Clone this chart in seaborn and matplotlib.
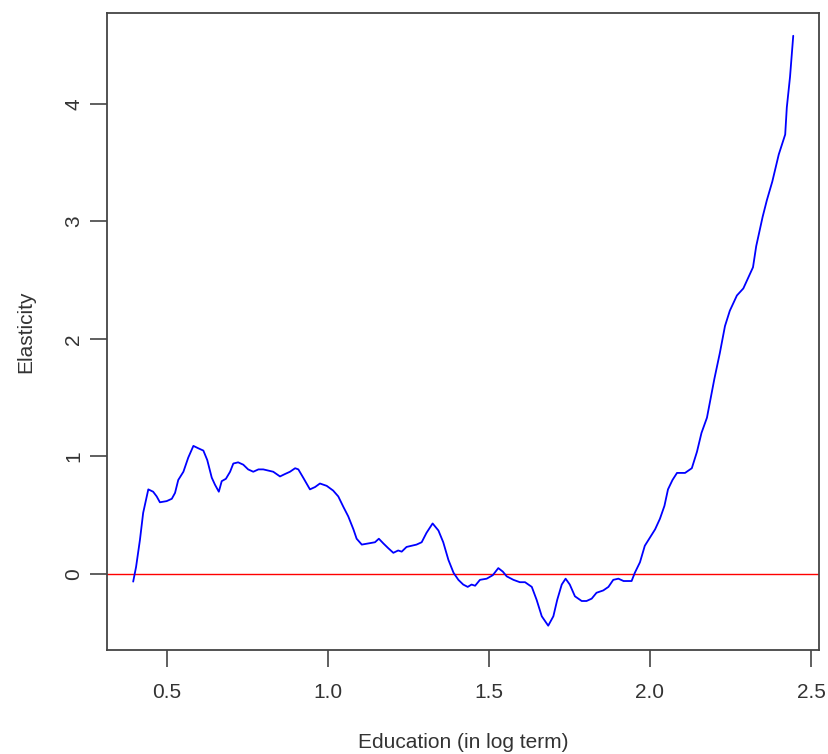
import numpy as np
import pandas as pd
import matplotlib
matplotlib.use("Agg")
import matplotlib.pyplot as plt
import seaborn as sns

education = [0.395, 0.404, 0.416, 0.426, 0.437, 0.442, 0.457, 0.468, 0.478, 0.499,
             0.515, 0.525, 0.535, 0.551, 0.566, 0.582, 0.597, 0.613, 0.625, 0.639,
             0.649, 0.661, 0.670, 0.683, 0.696, 0.706, 0.721, 0.737, 0.752, 0.768,
             0.784, 0.799, 0.815, 0.830, 0.851, 0.866, 0.882, 0.898, 0.908, 0.923,
             0.944, 0.960, 0.975, 0.996, 1.016, 1.032, 1.048, 1.063, 1.079, 1.089,
             1.105, 1.125, 1.146, 1.158, 1.172, 1.187, 1.203, 1.218, 1.229, 1.244,
             1.260, 1.275, 1.291, 1.306, 1.325, 1.343, 1.358, 1.374, 1.390, 1.405,
             1.420, 1.434, 1.446, 1.457, 1.472, 1.493, 1.512, 1.529, 1.543, 1.555,
             1.576, 1.596, 1.612, 1.633, 1.648, 1.664, 1.684, 1.700, 1.712, 1.726,
             1.738, 1.751, 1.767, 1.788, 1.803, 1.819, 1.834, 1.855, 1.871, 1.886,
             1.902, 1.918, 1.943, 1.953, 1.969, 1.984, 2.000, 2.016, 2.031, 2.045,
             2.056, 2.070, 2.084, 2.109, 2.130, 2.146, 2.160, 2.177, 2.186, 2.200,
             2.217, 2.233, 2.248, 2.270, 2.290, 2.320, 2.330, 2.350, 2.363, 2.380,
             2.400, 2.420, 2.425, 2.435, 2.445]
elasticity = [-0.065, 0.06, 0.29, 0.52, 0.66, 0.72, 0.70, 0.66, 0.61, 0.62,
              0.64, 0.69, 0.80, 0.87, 0.99, 1.09, 1.07, 1.05, 0.97, 0.82,
              0.76, 0.70, 0.79, 0.81, 0.87, 0.94, 0.95, 0.93, 0.89, 0.87,
              0.89, 0.89, 0.88, 0.87, 0.83, 0.85, 0.87, 0.90, 0.89, 0.82,
              0.72, 0.74, 0.77, 0.75, 0.71, 0.66, 0.57, 0.49, 0.38, 0.30,
              0.25, 0.26, 0.27, 0.30, 0.26, 0.22, 0.18, 0.20, 0.19, 0.23,
              0.24, 0.25, 0.27, 0.35, 0.43, 0.37, 0.27, 0.12, 0.01, -0.05,
              -0.09, -0.11, -0.09, -0.10, -0.05, -0.04, -0.01, 0.05, 0.02, -0.02,
              -0.05, -0.07, -0.07, -0.11, -0.22, -0.36, -0.44, -0.36, -0.22, -0.09,
              -0.04, -0.09, -0.19, -0.23, -0.23, -0.21, -0.16, -0.14, -0.11, -0.05,
              -0.04, -0.06, -0.06, 0.01, 0.10, 0.24, 0.31, 0.38, 0.47, 0.58,
              0.72, 0.80, 0.86, 0.86, 0.90, 1.04, 1.20, 1.33, 1.46, 1.66,
              1.88, 2.11, 2.24, 2.37, 2.43, 2.61, 2.79, 3.04, 3.18, 3.34,
              3.57, 3.74, 3.97, 4.23, 4.58]

x_ticks = [0.5, 1.0, 1.5, 2.0, 2.5]
x_tick_labels = ["0.5", "1.0", "1.5", "2.0", "2.5"]
y_ticks = [0, 1, 2, 3, 4]
y_tick_labels = ["0", "1", "2", "3", "4"]

sns.set_style("white")
plt.rcParams['font.family'] = ['Liberation Sans', 'DejaVu Sans']

df = pd.DataFrame({"Education": education, "Elasticity": elasticity})

fig = plt.figure(figsize=(8.29, 7.54), dpi=100)
ax = fig.add_axes([107/829, 1 - 650/754, (819 - 107)/829, (650 - 13)/754])

sns.lineplot(data=df, x="Education", y="Elasticity", ax=ax, color="#0000FF",
             linewidth=1.3, sort=False, estimator=None)
ax.axhline(0, color="#FF0000", linewidth=1.0, zorder=1)

ax.set_xlim(0.3137, 2.525)
ax.set_ylim(-0.647, 4.774)

ax.set_xticks(x_ticks)
ax.set_xticklabels(x_tick_labels, fontsize=15, color="#333333")
ax.set_yticks(y_ticks)
ax.set_yticklabels(y_tick_labels, fontsize=15, color="#333333", rotation=90, va="center")

ax.tick_params(axis="both", direction="out", length=12, width=1.2, color="#444444",
               bottom=True, left=True)
ax.tick_params(axis="x", pad=12)
ax.tick_params(axis="y", pad=5)
for s in ax.spines.values():
    s.set_color("#444444")
    s.set_linewidth(1.3)

ax.set_xlabel("Education (in log term)", fontsize=15, color="#333333", labelpad=22)
ax.set_ylabel("Elasticity", fontsize=15, color="#333333", labelpad=21)

fig.savefig("out.png", dpi=100)
